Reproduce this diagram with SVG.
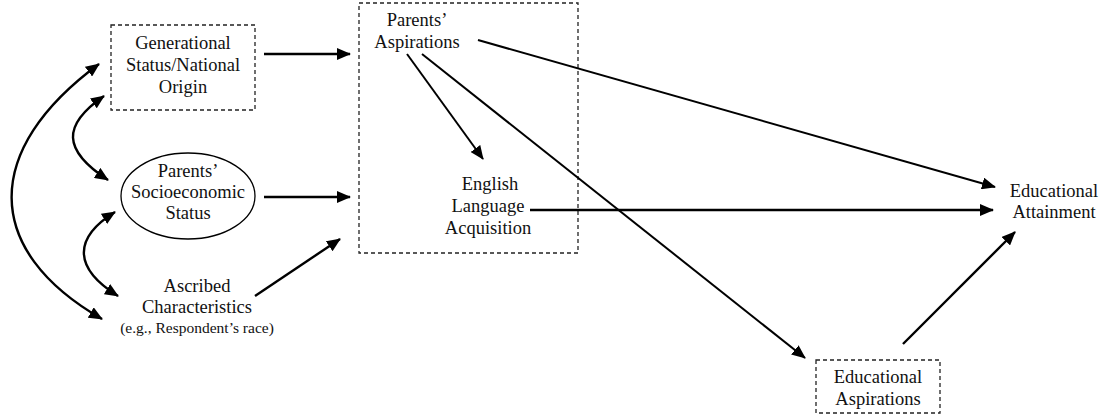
<svg xmlns="http://www.w3.org/2000/svg" width="1102" height="415" viewBox="0 0 1102 415">
  <style>
    text { font-family: "Liberation Serif", "Times New Roman", serif; font-size: 18.5px; fill: #111; text-anchor: middle; }
    .small { font-size: 15.5px; }
    .dash { fill: none; stroke: #222; stroke-width: 1.3; stroke-dasharray: 4 3; }
    .conn { fill: none; stroke: #000; stroke-width: 2.4; }
    .thin { stroke-width: 2; }
  </style>
  <defs>
    <marker id="arrow" markerUnits="userSpaceOnUse" markerWidth="14" markerHeight="12" refX="13" refY="6" orient="auto-start-reverse">
      <path d="M0,0 L14,6 L0,12 Z" fill="#000"/>
    </marker>
  </defs>
  <rect width="1102" height="415" fill="#fff"/>

  <g id="generational-status">
    <rect class="dash" x="111" y="25" width="144" height="85"/>
    <text x="183" y="49">Generational</text>
    <text x="183" y="71">Status/National</text>
    <text x="183" y="93">Origin</text>
  </g>

  <g id="parents-ses">
    <ellipse cx="188" cy="196" rx="67" ry="43" fill="none" stroke="#000" stroke-width="1.3"/>
    <text x="188" y="177">Parents’</text>
    <text x="188" y="198">Socioeconomic</text>
    <text x="188" y="219">Status</text>
  </g>

  <g id="ascribed">
    <text x="197" y="292">Ascribed</text>
    <text x="197" y="313">Characteristics</text>
    <text class="small" x="197" y="333">(e.g., Respondent’s race)</text>
  </g>

  <g id="parents-block">
    <rect class="dash" x="359" y="3" width="219" height="250"/>
  </g>

  <g id="parents-aspirations">
    <text x="417" y="26">Parents’</text>
    <text x="417" y="48">Aspirations</text>
  </g>

  <g id="english-acquisition">
    <text x="490" y="190">English</text>
    <text x="488" y="212">Language</text>
    <text x="488" y="234">Acquisition</text>
  </g>

  <g id="educational-aspirations">
    <rect class="dash" x="816" y="360" width="124" height="53"/>
    <text x="878" y="383">Educational</text>
    <text x="878" y="405">Aspirations</text>
  </g>

  <g id="educational-attainment">
    <text x="1054" y="197">Educational</text>
    <text x="1054" y="218">Attainment</text>
  </g>

  <g id="connectors">
    <!-- correlations among exogenous variables -->
    <path class="conn" d="M99,64 C-18,150 -18,250 102,319" marker-start="url(#arrow)" marker-end="url(#arrow)"/>
    <path class="conn" d="M104,96 C62,125 62,150 108,180" marker-start="url(#arrow)" marker-end="url(#arrow)"/>
    <path class="conn" d="M115,212 C73,238 73,268 118,296" marker-start="url(#arrow)" marker-end="url(#arrow)"/>
    <!-- into the parents block -->
    <line class="conn" x1="264" y1="54" x2="350" y2="54" marker-end="url(#arrow)"/>
    <line class="conn" x1="264" y1="197" x2="350" y2="197" marker-end="url(#arrow)"/>
    <line class="conn" x1="255" y1="296" x2="340" y2="239" marker-end="url(#arrow)"/>
    <!-- paths from parents' aspirations -->
    <line class="conn thin" x1="407" y1="54" x2="483" y2="159" marker-end="url(#arrow)"/>
    <line class="conn thin" x1="422" y1="54" x2="805" y2="358" marker-end="url(#arrow)"/>
    <line class="conn thin" x1="478" y1="40" x2="995" y2="187" marker-end="url(#arrow)"/>
    <!-- to educational attainment -->
    <line class="conn" x1="530" y1="210" x2="993" y2="210" marker-end="url(#arrow)"/>
    <line class="conn" x1="903" y1="344" x2="1015" y2="232" marker-end="url(#arrow)"/>
  </g>
</svg>
